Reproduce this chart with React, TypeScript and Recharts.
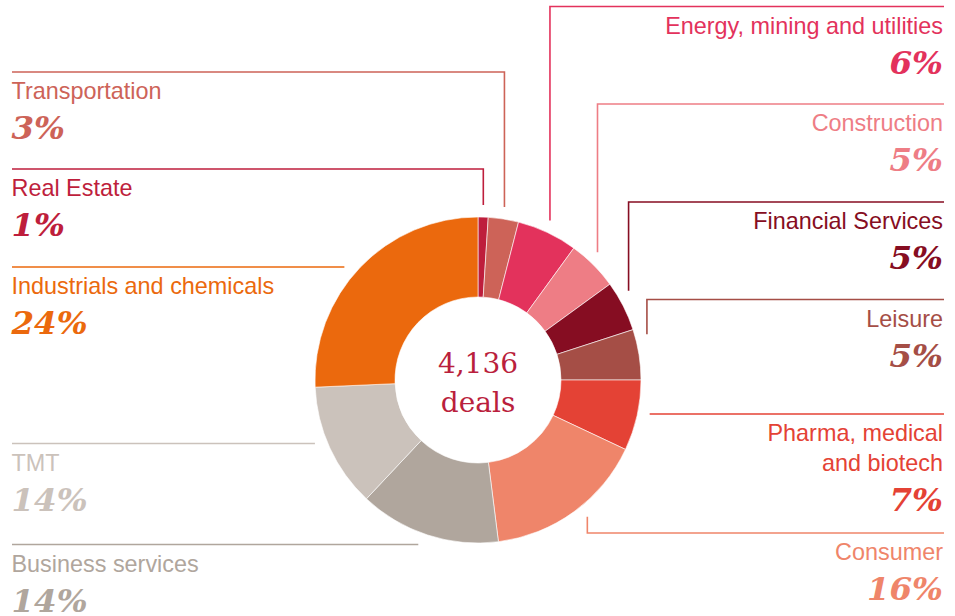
import React from 'react';
import { PieChart, Pie, Cell } from 'recharts';

// ---- data ----
const sectorNames = [
  'Real Estate',
  'Transportation',
  'Energy, mining and utilities',
  'Construction',
  'Financial Services',
  'Leisure',
  'Pharma, medical and biotech',
  'Consumer',
  'Business services',
  'TMT',
  'Industrials and chemicals',
];
// how each name is broken over lines in its label
const nameLines = [
  ['Real Estate'],
  ['Transportation'],
  ['Energy, mining and utilities'],
  ['Construction'],
  ['Financial Services'],
  ['Leisure'],
  ['Pharma, medical', 'and biotech'],
  ['Consumer'],
  ['Business services'],
  ['TMT'],
  ['Industrials and chemicals'],
];
// printed shares (%)
const printedShare = [1, 3, 6, 5, 5, 5, 7, 16, 14, 14, 24];
// arc sizes as drawn in the picture (%)
const drawnShare = [1, 3, 6, 5, 5, 5, 7, 16, 14, 12.3, 25.7];
const totalDeals = '4,136';
const totalUnit = 'deals';

// ---- styles / layout ----
const COLORS = [
  '#BE1E3C',
  '#CD6358',
  '#E3325C',
  '#EE7D85',
  '#860D22',
  '#A54E46',
  '#E44235',
  '#EF856A',
  '#B0A69D',
  '#CBC2BB',
  '#EB690D',
];
type Lay = { side: 'left' | 'right'; lineY: number; kind: 'elbow' | 'flat'; nudge?: number };
const LAYOUT: Lay[] = [
  { side: 'left', lineY: 169, kind: 'elbow' },
  { side: 'left', lineY: 72, kind: 'elbow' },
  { side: 'right', lineY: 6.5, kind: 'elbow' },
  { side: 'right', lineY: 104, kind: 'elbow' },
  { side: 'right', lineY: 202, kind: 'elbow' },
  { side: 'right', lineY: 299.5, kind: 'elbow', nudge: 2 },
  { side: 'right', lineY: 414, kind: 'flat' },
  { side: 'right', lineY: 533, kind: 'elbow', nudge: 10 },
  { side: 'left', lineY: 544.5, kind: 'flat' },
  { side: 'left', lineY: 443.5, kind: 'flat' },
  { side: 'left', lineY: 267, kind: 'flat' },
];
const LEFT_X = 12;
const RIGHT_X = 944;
const RING_GAP = 12;
const SANS = '"Liberation Sans", Arial, sans-serif';
const SERIF = '"DejaVu Serif", serif';
const CENTER_COLOR = '#BA1F3D';

const data = sectorNames.map((name, i) => ({ name, value: drawnShare[i], share: printedShare[i] }));

const renderLabel = (props: any) => {
  const { cx, cy, midAngle, outerRadius, index } = props;
  const L = LAYOUT[index];
  const color = COLORS[index];
  const rad = Math.PI / 180;
  const ring = outerRadius + RING_GAP;
  let d = '';
  if (L.kind === 'elbow') {
    const vx = cx + (outerRadius + 6) * Math.cos(midAngle * rad) + (L.nudge || 0);
    const ddx = vx - cx;
    const h = Math.sqrt(Math.max(0, ring * ring - ddx * ddx));
    const endY = L.lineY < cy ? cy - h : cy + h;
    d = `M${L.side === 'left' ? LEFT_X : RIGHT_X},${L.lineY}H${vx}V${endY}`;
  } else {
    const ddy = L.lineY - cy;
    const w = Math.sqrt(Math.max(0, ring * ring - ddy * ddy));
    d = L.side === 'left' ? `M${LEFT_X},${L.lineY}H${cx - w}` : `M${cx + w},${L.lineY}H${RIGHT_X}`;
  }
  const tx = L.side === 'left' ? LEFT_X - 0.5 : RIGHT_X - 1;
  const anchor = L.side === 'left' ? 'start' : 'end';
  const lines = nameLines[index];
  const pctY = L.lineY + 67 + (lines.length - 1) * 30;
  return (
    <g key={`lab-${index}`}>
      <path d={d} fill="none" stroke={color} strokeWidth={1.6} />
      {lines.map((t, j) => (
        <text
          key={j}
          x={tx}
          y={L.lineY + 27 + j * 30}
          textAnchor={anchor}
          fill={color}
          fontFamily={SANS}
          fontSize={23.4}
        >
          {t}
        </text>
      ))}
      <text
        x={tx}
        y={pctY}
        textAnchor={anchor}
        fill={color}
        fontFamily={SERIF}
        fontSize={32.5}
        fontWeight="bold"
        fontStyle="italic"
      >
        {`${printedShare[index]}%`}
      </text>
      {index === 0 ? (
        <g>
          <text x={cx} y={cy - 7} textAnchor="middle" fill={CENTER_COLOR} fontFamily={SERIF} fontSize={28}>
            {totalDeals}
          </text>
          <text x={cx} y={cy + 32} textAnchor="middle" fill={CENTER_COLOR} fontFamily={SERIF} fontSize={28}>
            {totalUnit}
          </text>
        </g>
      ) : null}
    </g>
  );
};

export default function App() {
  return (
    <div style={{ position: 'absolute', left: 0, top: 0, width: 955, height: 616, background: '#fff' }}>
      <PieChart width={955} height={616} margin={{ top: 0, right: 0, bottom: 0, left: 0 }}>
        <Pie
          data={data}
          dataKey="value"
          nameKey="name"
          cx={478}
          cy={380}
          innerRadius={83}
          outerRadius={163}
          startAngle={90}
          endAngle={-270}
          stroke="#ffffff"
          strokeWidth={0.6}
          label={renderLabel}
          labelLine={false}
          isAnimationActive={false}
        >
          {data.map((d, i) => (
            <Cell key={d.name} fill={COLORS[i]} />
          ))}
        </Pie>
      </PieChart>
    </div>
  );
}
